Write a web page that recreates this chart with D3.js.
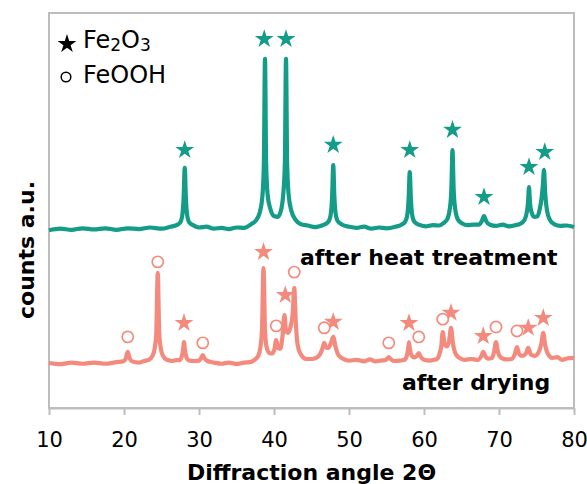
<!DOCTYPE html>
<html>
<head>
<meta charset="utf-8">
<script src="https://cdn.jsdelivr.net/npm/d3@7"></script>
<style>
  html, body { margin: 0; padding: 0; background: #fff; }
  svg { display: block; font-family: "DejaVu Sans", Verdana, sans-serif; }
</style>
</head>
<body>
<div class="chart"></div>
<script>
'use strict';
(function() {
  // Colors
  var TEAL = '#139c88';
  var SALMON = '#f48a7d';
  var FRAME = '#bdbdbd';

  var w = 587;
  var h = 484;
  var margin = {top: 13, right: 13, bottom: 76, left: 49};

  // x ticks
  var xTicks = [10, 20, 30, 40, 50, 60, 70, 80];

  // after heat treatment: [2theta, counts]
  var heatTrace = [
    [10, 45.0], [11.5, 45.4], [13, 45.1], [14.5, 45.5], [16, 45.2], [17.5, 45.5], [19, 45.1], [20.5, 45.5],
    [22, 45.3], [23.5, 45.7], [25, 45.4], [26.2, 45.9],
    [27.0, 46.3], [27.5, 47.0], [27.8, 49.2], [27.95, 53.2], [28.1, 60.8], [28.25, 53.2], [28.4, 49.2],
    [28.7, 47.0], [29.2, 46.3], [30, 45.7], [31, 45.9], [32, 45.4], [33, 45.6], [34, 45.3], [35, 45.7],
    [36, 45.6], [37.0, 46.6], [37.6, 47.5], [38.1, 49.5], [38.45, 53.5], [38.65, 62.0], [38.8, 88.4],
    [38.95, 62.0], [39.15, 54.0], [39.5, 50.5], [40.0, 48.6], [40.5, 48.4], [40.9, 49.8], [41.25, 54.5],
    [41.45, 62.0], [41.6, 88.4], [41.75, 62.0], [41.95, 54.0], [42.3, 50.0], [42.9, 47.6], [43.6, 46.5],
    [44.5, 46.2], [45.5, 45.8], [46.2, 46.1], [46.8, 46.5], [47.3, 47.3], [47.6, 49.5], [47.75, 53.5],
    [47.9, 61.5], [48.05, 53.5], [48.2, 49.5], [48.5, 47.3], [49.1, 46.4], [50, 45.9], [51, 45.6],
    [52, 45.9], [53, 45.4], [54, 45.7], [55, 45.5], [56.2, 45.9], [57.0, 46.4], [57.5, 47.2],
    [57.8, 49.2], [57.95, 53.0], [58.1, 59.7], [58.25, 53.0], [58.4, 49.2], [58.7, 47.2], [59.3, 46.4],
    [60.2, 46.0], [61.2, 46.3], [62.0, 46.2], [62.6, 46.8], [63.1, 47.8], [63.45, 50.5], [63.65, 55.5],
    [63.8, 65.3], [63.95, 55.5], [64.15, 50.5], [64.5, 47.8], [65.1, 46.7], [65.8, 46.3], [66.6, 46.4],
    [67.3, 46.4], [67.7, 47.3], [68.0, 48.6], [68.3, 47.3], [68.8, 46.4], [69.6, 46.1], [70.5, 46.4],
    [71.3, 46.0], [72.2, 46.3], [72.8, 46.6], [73.4, 47.6], [73.7, 49.5], [73.87, 52.0], [74.0, 55.9],
    [74.13, 52.0], [74.35, 49.5], [74.7, 48.4], [75.1, 48.5], [75.45, 50.5], [75.7, 53.5], [75.85, 56.5],
    [76.0, 60.3], [76.15, 54.5], [76.4, 50.0], [76.8, 47.6], [77.4, 46.5], [78.2, 46.1], [79, 46.2],
    [80, 45.8]
  ];

  // after drying: [2theta, counts]
  var dryTrace = [
    [10, 11.4], [11.5, 11.1], [13, 11.5], [14.5, 11.2], [16, 11.5], [17.5, 11.2], [19, 11.6],
    [19.9, 11.8], [20.25, 12.6], [20.5, 14.2], [20.75, 12.6], [21.1, 11.8], [22, 11.5], [22.7, 11.9],
    [23.3, 12.2], [23.8, 13.2], [24.1, 15.2], [24.3, 18.8], [24.5, 34.2], [24.7, 18.8], [24.9, 15.2],
    [25.2, 13.2], [25.7, 12.2], [26.5, 11.9], [27.0, 12.1], [27.4, 12.1], [27.7, 13.0], [27.87, 14.6],
    [28.0, 16.7], [28.13, 14.6], [28.3, 13.0], [28.6, 12.1], [29.3, 11.9], [30.0, 12.0], [30.3, 12.7],
    [30.5, 13.4], [30.7, 12.7], [31.1, 11.9], [32, 11.5], [33, 11.2], [34, 11.5], [35, 11.1], [36, 11.5],
    [36.8, 11.6], [37.4, 12.2], [37.9, 13.2], [38.2, 15.5], [38.4, 20.0], [38.6, 35.4], [38.8, 20.0],
    [39.0, 15.5], [39.4, 13.9], [39.8, 13.8], [40.05, 14.8], [40.3, 17.2], [40.55, 15.2], [40.85, 15.0],
    [41.15, 18.5], [41.4, 23.5], [41.6, 19.5], [41.85, 19.0], [42.2, 20.5], [42.5, 24.0], [42.7, 30.4],
    [42.9, 22.0], [43.15, 16.0], [43.6, 13.5], [44.3, 12.4], [45.0, 12.4], [45.6, 12.7], [46.1, 13.5],
    [46.45, 15.0], [46.7, 16.5], [46.95, 15.3], [47.25, 15.2], [47.6, 16.5], [47.9, 18.0], [48.2, 15.5],
    [48.6, 13.4], [49.3, 12.4], [50, 12.0], [51, 12.2], [52, 11.8], [52.8, 12.3], [53.5, 11.8],
    [54.2, 12.0], [54.8, 12.1], [55.1, 12.5], [55.3, 12.9], [55.55, 12.4], [56.0, 11.9], [56.8, 12.0],
    [57.4, 12.2], [57.7, 13.2], [57.87, 14.8], [58.0, 16.7], [58.13, 14.8], [58.35, 13.3], [58.7, 12.8],
    [59.0, 13.1], [59.3, 13.9], [59.55, 13.0], [60.0, 12.2], [60.8, 12.0], [61.3, 12.2], [61.7, 12.4],
    [62.05, 13.6], [62.3, 15.6], [62.5, 19.2], [62.75, 16.2], [63.05, 15.6], [63.35, 17.0], [63.6, 20.3],
    [63.85, 16.5], [64.2, 13.8], [64.8, 12.6], [65.5, 12.2], [66.3, 12.4], [67.0, 12.2], [67.3, 12.3],
    [67.65, 13.2], [67.9, 14.2], [68.15, 13.2], [68.55, 12.5], [69.0, 12.6], [69.35, 14.2], [69.6, 16.7],
    [69.85, 14.2], [70.3, 12.7], [71.0, 12.3], [71.7, 12.4], [72.1, 13.6], [72.4, 15.4], [72.7, 13.6],
    [73.1, 13.2], [73.55, 13.7], [73.9, 15.2], [74.25, 13.5], [74.8, 13.2], [75.3, 14.2], [75.65, 16.3],
    [75.9, 19.0], [76.15, 16.0], [76.5, 13.8], [77.1, 12.7], [77.8, 12.9], [78.4, 12.2], [79.2, 12.6],
    [80, 12.7]
  ];

  // peak markers
  var heatStars = [
    [28.1, 65.3], [38.7, 93.4], [41.6, 93.4], [47.9, 66.6], [58.1, 65.3],
    [63.8, 70.4], [68.0, 53.4], [74.0, 61.0], [76.1, 64.8]
  ];
  var dryStars = [
    [28.0, 21.5], [38.6, 39.5], [41.5, 28.6], [47.9, 21.8], [58.0, 21.5],
    [63.6, 24.1], [67.9, 18.2], [73.9, 20.3], [75.9, 22.8]
  ];
  var dryCircles = [
    [20.5, 18.0], [24.5, 37.0], [30.5, 16.5], [40.3, 20.8], [42.7, 34.4], [46.7, 20.3],
    [55.3, 16.5], [59.3, 18.0], [62.5, 22.5], [69.6, 20.5], [72.4, 19.5]
  ];

  var svg = d3.select(".chart")
    .append("svg")
    .attr("width", w)
    .attr("height", h);

  var xScale = d3.scaleLinear()
    .domain([10, 80])
    .range([margin.left, w - margin.right]);

  var yScale = d3.scaleLinear()
    .domain([0, 100])
    .range([h - margin.bottom, margin.top]);

  // Frame
  svg.append("rect")
    .attr("x", margin.left)
    .attr("y", margin.top)
    .attr("width", w - margin.left - margin.right)
    .attr("height", h - margin.top - margin.bottom)
    .attr("fill", "none")
    .attr("stroke", FRAME)
    .attr("stroke-width", 2);

  // X axis
  var xAxis = d3.axisBottom(xScale)
    .tickValues(xTicks)
    .tickSizeInner(7)
    .tickSizeOuter(0)
    .tickPadding(17);

  var gx = svg.append("g")
    .attr("transform", "translate(0," + (h - margin.bottom) + ")")
    .call(xAxis);
  gx.select(".domain").attr("stroke", FRAME).attr("stroke-width", 2);
  gx.selectAll(".tick line").attr("stroke", FRAME).attr("stroke-width", 2);
  gx.selectAll(".tick text")
    .attr("fill", "#000")
    .style("font-size", "21px")
    .style("font-family", "DejaVu Sans, Verdana, sans-serif");

  // Traces
  var line = d3.line()
    .x(function(d) { return xScale(d[0]); })
    .y(function(d) { return yScale(d[1]); })
    .curve(d3.curveMonotoneX);

  svg.append("path")
    .datum(dryTrace)
    .attr("d", line)
    .attr("fill", "none")
    .attr("stroke", SALMON)
    .attr("stroke-width", 4.2)
    .attr("stroke-linejoin", "round");

  svg.append("path")
    .datum(heatTrace)
    .attr("d", line)
    .attr("fill", "none")
    .attr("stroke", TEAL)
    .attr("stroke-width", 4.2)
    .attr("stroke-linejoin", "round");

  // Markers
  var star = d3.symbol().type(d3.symbolStar).size(110);

  svg.append("g")
    .selectAll("path")
    .data(heatStars)
    .enter()
    .append("path")
    .attr("d", star)
    .attr("transform", function(d) { return "translate(" + xScale(d[0]) + "," + yScale(d[1]) + ")"; })
    .attr("fill", TEAL);

  svg.append("g")
    .selectAll("path")
    .data(dryStars)
    .enter()
    .append("path")
    .attr("d", star)
    .attr("transform", function(d) { return "translate(" + xScale(d[0]) + "," + yScale(d[1]) + ")"; })
    .attr("fill", SALMON);

  svg.append("g")
    .selectAll("circle")
    .data(dryCircles)
    .enter()
    .append("circle")
    .attr("cx", function(d) { return xScale(d[0]); })
    .attr("cy", function(d) { return yScale(d[1]); })
    .attr("r", 5.6)
    .attr("fill", "#fff")
    .attr("stroke", SALMON)
    .attr("stroke-width", 1.7);

  // Trace labels
  svg.append("text")
    .attr("x", 300)
    .attr("y", 265)
    .attr("font-size", 22)
    .attr("font-weight", "bold")
    .text("after heat treatment");

  svg.append("text")
    .attr("x", 402)
    .attr("y", 390)
    .attr("font-size", 22)
    .attr("font-weight", "bold")
    .text("after drying");

  // Legend
  var legend = svg.append("g");
  legend.append("path")
    .attr("d", d3.symbol().type(d3.symbolStar).size(110))
    .attr("transform", "translate(67,44)");
  var t1 = legend.append("text")
    .attr("x", 83)
    .attr("y", 48)
    .attr("font-size", 24);
  t1.append("tspan").text("Fe");
  t1.append("tspan").attr("font-size", 17).attr("dy", 3).text("2");
  t1.append("tspan").attr("dy", -3).text("O");
  t1.append("tspan").attr("font-size", 17).attr("dy", 3).text("3");

  legend.append("circle")
    .attr("cx", 66)
    .attr("cy", 77)
    .attr("r", 4.8)
    .attr("fill", "none")
    .attr("stroke", "#000")
    .attr("stroke-width", 1.5);
  legend.append("text")
    .attr("x", 83)
    .attr("y", 83)
    .attr("font-size", 24)
    .text("FeOOH");

  // Axis titles
  svg.append("text")
    .attr("x", (margin.left + w - margin.right) / 2)
    .attr("y", 480)
    .attr("text-anchor", "middle")
    .attr("font-size", 22)
    .attr("font-weight", "bold")
    .text("Diffraction angle 2\u0398");

  svg.append("text")
    .attr("transform", "translate(34,250) rotate(-90)")
    .attr("text-anchor", "middle")
    .attr("font-size", 22)
    .attr("font-weight", "bold")
    .text("counts a.u.");
})();
</script>
</body>
</html>
